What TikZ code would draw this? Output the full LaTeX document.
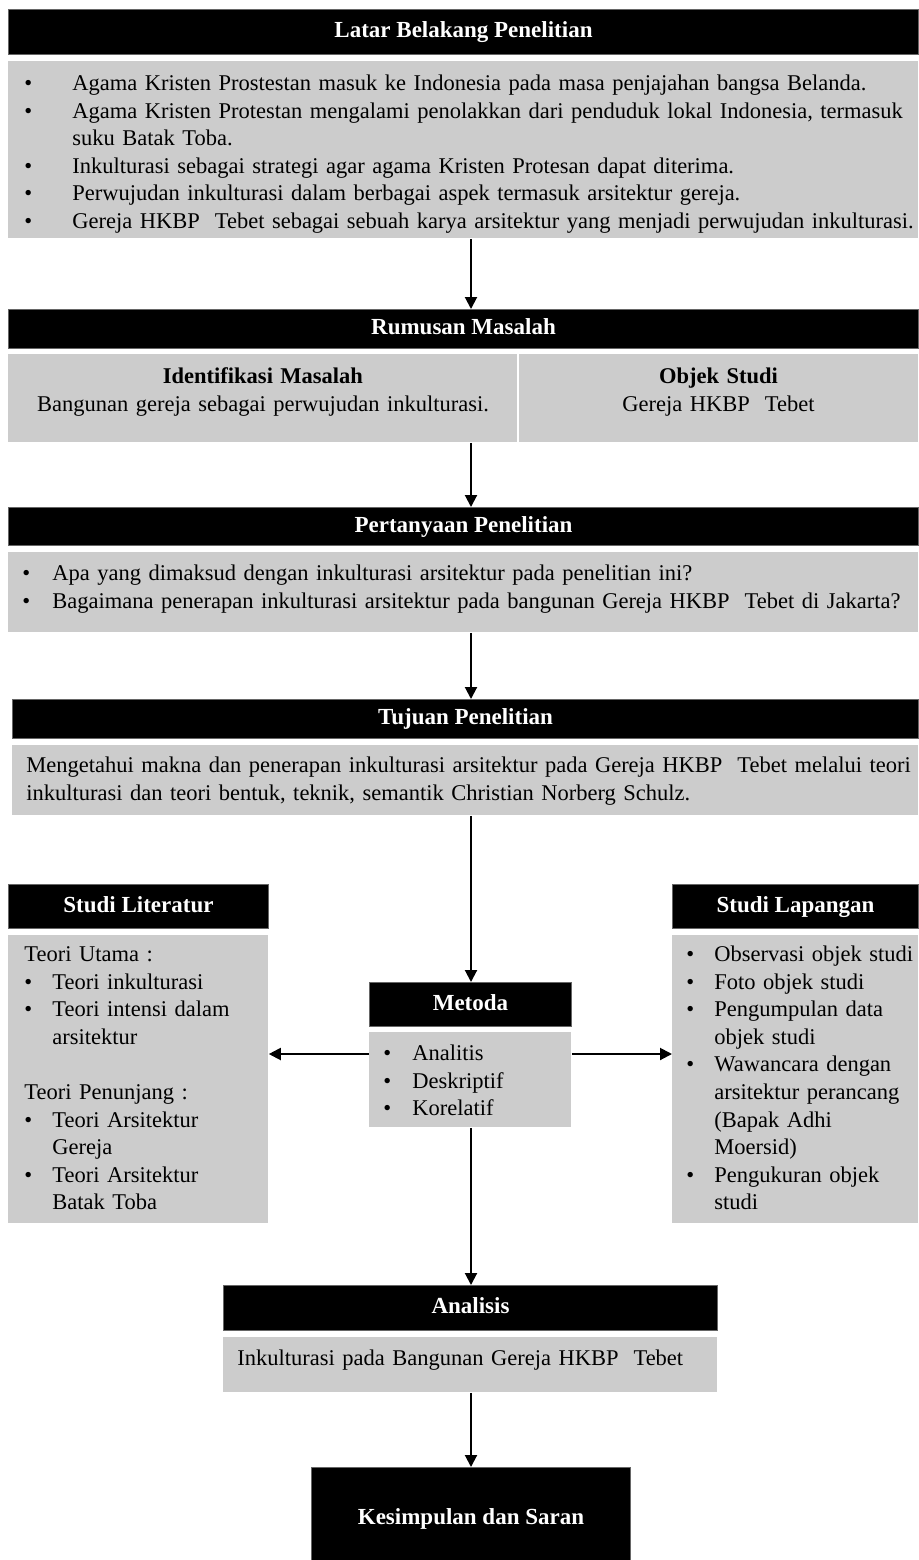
\documentclass[tikz,border=0pt]{standalone}
\usepackage{fontspec}
\setmainfont{Liberation Serif}
\usetikzlibrary{arrows.meta}
\newcommand{\bodyfont}{\fontsize{11.25pt}{13.8pt}\selectfont}
\newcommand{\hdrfont}{\fontsize{11.5pt}{13.8pt}\selectfont\bfseries}
\newcommand{\itm}[2][14pt]{\hangindent=#1\hangafter=1\noindent\strut\makebox[#1][l]{\textbullet}#2\par}
\begin{document}
\begin{tikzpicture}[x=0.5pt,y=0.5pt]
\tikzstyle{hdr}=[fill=black, draw=black!60, line width=0.5pt, text=white, font=\hdrfont, anchor=north west, inner sep=0pt, text height=8pt, text depth=2.5pt]
\tikzstyle{box}=[fill=black!20, anchor=north west, inner sep=0pt]
\tikzstyle{txt}=[anchor=north west, inner sep=0pt, font=\bodyfont, execute at begin node=\raggedright]
\tikzstyle{ctxt}=[anchor=north, inner sep=0pt, font=\bodyfont, align=center]
\tikzstyle{arr}=[line width=1pt, -{Triangle[length=6pt,width=6pt]}]
\useasboundingbox (0,0) rectangle (918,-1560);
\node[hdr, minimum width=455pt, minimum height=22.5pt] (latarhdr) at (8,-9) {Latar Belakang Penelitian};
\node[box, minimum width=455pt, minimum height=88.5pt] (latarbox) at (8,-61) {};
\node[txt, text width=470pt] (latartxt) at (24,-70.7) {\itm[24pt]{Agama Kristen Prostestan masuk ke Indonesia pada masa penjajahan bangsa Belanda.}\itm[24pt]{Agama Kristen Protestan mengalami penolakkan dari penduduk lokal Indonesia, termasuk\newline suku Batak Toba.}\itm[24pt]{Inkulturasi sebagai strategi agar agama Kristen Protesan dapat diterima.}\itm[24pt]{Perwujudan inkulturasi dalam berbagai aspek termasuk arsitektur gereja.}\itm[24pt]{Gereja HKBP\ \ Tebet sebagai sebuah karya arsitektur yang menjadi perwujudan inkulturasi.}};
\node[hdr, minimum width=455pt, minimum height=19.5pt] (rumushdr) at (8,-309) {Rumusan Masalah};
\node[box, minimum width=254.5pt, minimum height=44pt] (rumusleft) at (8,-354) {};
\node[box, minimum width=199.5pt, minimum height=44pt] (rumusright) at (519,-354) {};
\node[ctxt, text width=240pt] (idtxt) at (263,-363.7) {\strut\textbf{Identifikasi Masalah}\\Bangunan gereja sebagai perwujudan inkulturasi.};
\node[ctxt, text width=190pt] (objtxt) at (718.5,-363.7) {\strut\textbf{Objek Studi}\\Gereja HKBP\ \ Tebet};
\node[hdr, minimum width=455pt, minimum height=19pt] (tanyahdr) at (8,-507) {Pertanyaan Penelitian};
\node[box, minimum width=455pt, minimum height=40pt] (tanyabox) at (8,-552) {};
\node[txt, text width=470pt] (tanyatxt) at (22,-560.7) {\itm[15pt]{Apa yang dimaksud dengan inkulturasi arsitektur pada penelitian ini?}\itm[15pt]{Bagaimana penerapan inkulturasi arsitektur pada bangunan Gereja HKBP\ \ Tebet di Jakarta?}};
\node[hdr, minimum width=453pt, minimum height=19.5pt] (tujuanhdr) at (12,-699) {Tujuan Penelitian};
\node[box, minimum width=453pt, minimum height=35pt] (tujuanbox) at (12,-745) {};
\node[txt, text width=470pt] (tujuantxt) at (26,-752.7) {\strut Mengetahui makna dan penerapan inkulturasi arsitektur pada Gereja HKBP\ \ Tebet melalui teori\\inkulturasi dan teori bentuk, teknik, semantik Christian Norberg Schulz.};
\node[hdr, minimum width=130pt, minimum height=22pt] (lithdr) at (8,-884) {Studi Literatur};
\node[box, minimum width=130pt, minimum height=144pt] (litbox) at (8,-935) {};
\node[txt, text width=130pt] (littxt) at (24,-941.7) {\noindent\strut Teori Utama :\par\itm{Teori inkulturasi}\itm{Teori intensi dalam\newline arsitektur}\noindent\strut\par\noindent\strut Teori Penunjang :\par\itm{Teori Arsitektur\newline Gereja}\itm{Teori Arsitektur\newline Batak Toba}};
\node[hdr, minimum width=123pt, minimum height=22pt] (laphdr) at (672,-884) {Studi Lapangan};
\node[box, minimum width=123pt, minimum height=144pt] (lapbox) at (672,-935) {};
\node[txt, text width=130pt] (laptxt) at (686,-941.7) {\itm{Observasi objek studi}\itm{Foto objek studi}\itm{Pengumpulan data\newline objek studi}\itm{Wawancara dengan\newline arsitektur perancang\newline (Bapak Adhi\newline Moersid)}\itm{Pengukuran objek\newline studi}};
\node[hdr, minimum width=101pt, minimum height=22pt] (metodahdr) at (369,-982) {Metoda};
\node[box, minimum width=101pt, minimum height=47.5pt] (metodabox) at (369,-1032) {};
\node[txt, text width=90pt] (metodatxt) at (383,-1040.7) {\itm[14.5pt]{Analitis}\itm[14.5pt]{Deskriptif}\itm[14.5pt]{Korelatif}};
\node[hdr, minimum width=247pt, minimum height=22.5pt] (analisishdr) at (223,-1285) {Analisis};
\node[box, minimum width=247pt, minimum height=27.5pt] (analisisbox) at (223,-1337) {};
\node[txt, text width=240pt] (analisistxt) at (237,-1345.7) {\strut Inkulturasi pada Bangunan Gereja HKBP\ \ Tebet};
\node[hdr, minimum width=159.5pt, minimum height=51pt] (kesimpulan) at (311,-1467) {Kesimpulan dan Saran};
\coordinate (axis) at (471,0);
\coordinate (sideline) at (0,-1054);
\draw[arr] (latarbox.south -| axis) -- (rumushdr.north -| axis);
\draw[arr] (rumusleft.south -| axis) -- (tanyahdr.north -| axis);
\draw[arr] (tanyabox.south -| axis) -- (tujuanhdr.north -| axis);
\draw[arr] (tujuanbox.south -| axis) -- (metodahdr.north -| axis);
\draw[arr] (metodabox.west |- sideline) -- (litbox.east |- sideline);
\draw[arr] (metodabox.east |- sideline) -- (lapbox.west |- sideline);
\draw[arr] (metodabox.south -| axis) -- (analisishdr.north -| axis);
\draw[arr] (analisisbox.south -| axis) -- (kesimpulan.north -| axis);
\end{tikzpicture}
\end{document}
